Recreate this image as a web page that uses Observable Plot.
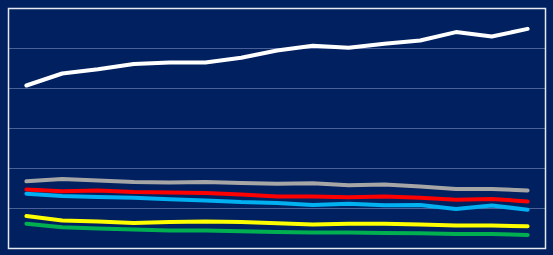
<!DOCTYPE html>
<html>
<head>
<meta charset="utf-8">
<script src="https://cdn.jsdelivr.net/npm/d3@7"></script>
<script src="https://cdn.jsdelivr.net/npm/@observablehq/plot@0.6"></script>
<style>
  html, body { margin: 0; padding: 0; background: #002060; }
  #chart svg { display: block; }
</style>
</head>
<body>
<div id="chart"></div>
<script>
const periods = ["1","2","3","4","5","6","7","8","9","10","11","12","13","14","15"];
const seriesNames = ["Series A", "Series B", "Series C", "Series D", "Series E", "Series F"];
const seriesColors = ["#FFFFFF", "#A6A6A6", "#FF0000", "#00B0F0", "#FFFF00", "#00B050"];
const seriesAValues = [40.75, 43.75, 44.8, 46.1, 46.5, 46.5, 47.7, 49.5, 50.7, 50.2, 51.2, 52.0, 54.1, 53.0, 54.9];
const seriesBValues = [16.8, 17.4, 17.0, 16.6, 16.5, 16.6, 16.4, 16.2, 16.3, 15.8, 16.0, 15.5, 14.9, 14.9, 14.5];
const seriesCValues = [14.75, 14.3, 14.5, 14.1, 14.0, 13.9, 13.5, 13.0, 13.0, 12.8, 13.0, 12.7, 12.2, 12.4, 11.75];
const seriesDValues = [13.7, 13.1, 12.9, 12.7, 12.3, 12.0, 11.6, 11.4, 10.9, 11.2, 10.8, 10.9, 9.9, 10.75, 9.7];
const seriesEValues = [8.1, 7.0, 6.75, 6.4, 6.6, 6.75, 6.6, 6.3, 6.0, 6.2, 6.2, 6.0, 5.75, 5.75, 5.55];
const seriesFValues = [6.2, 5.3, 5.0, 4.75, 4.5, 4.5, 4.3, 4.1, 4.0, 4.0, 3.9, 3.8, 3.6, 3.6, 3.4];
const gridTicks = [10, 20, 30, 40, 50];

const allValues = [seriesAValues, seriesBValues, seriesCValues, seriesDValues, seriesEValues, seriesFValues];
const data = [];
seriesNames.forEach((s, i) => {
  periods.forEach((p, j) => data.push({series: s, period: p, idx: j + 1, value: allValues[i][j]}));
});

const chart = Plot.plot({
  width: 553,
  height: 255,
  marginLeft: 8,
  marginRight: 8,
  marginTop: 8,
  marginBottom: 7,
  style: {background: "#002060"},
  x: {type: "linear", domain: [0.5, periods.length + 0.5], axis: null},
  y: {domain: [0, 60], axis: null},
  color: {domain: seriesNames, range: seriesColors},
  marks: [
    Plot.ruleY(gridTicks, {stroke: "#4a6198", strokeWidth: 1}),
    Plot.frame({stroke: "#E6E9F0", strokeWidth: 1.5}),
    Plot.line(data, {
      x: "idx", y: "value", z: "series", stroke: "series",
      strokeWidth: 4, strokeLinejoin: "round", strokeLinecap: "round"
    })
  ]
});
document.getElementById("chart").appendChild(chart);
</script>
</body>
</html>
